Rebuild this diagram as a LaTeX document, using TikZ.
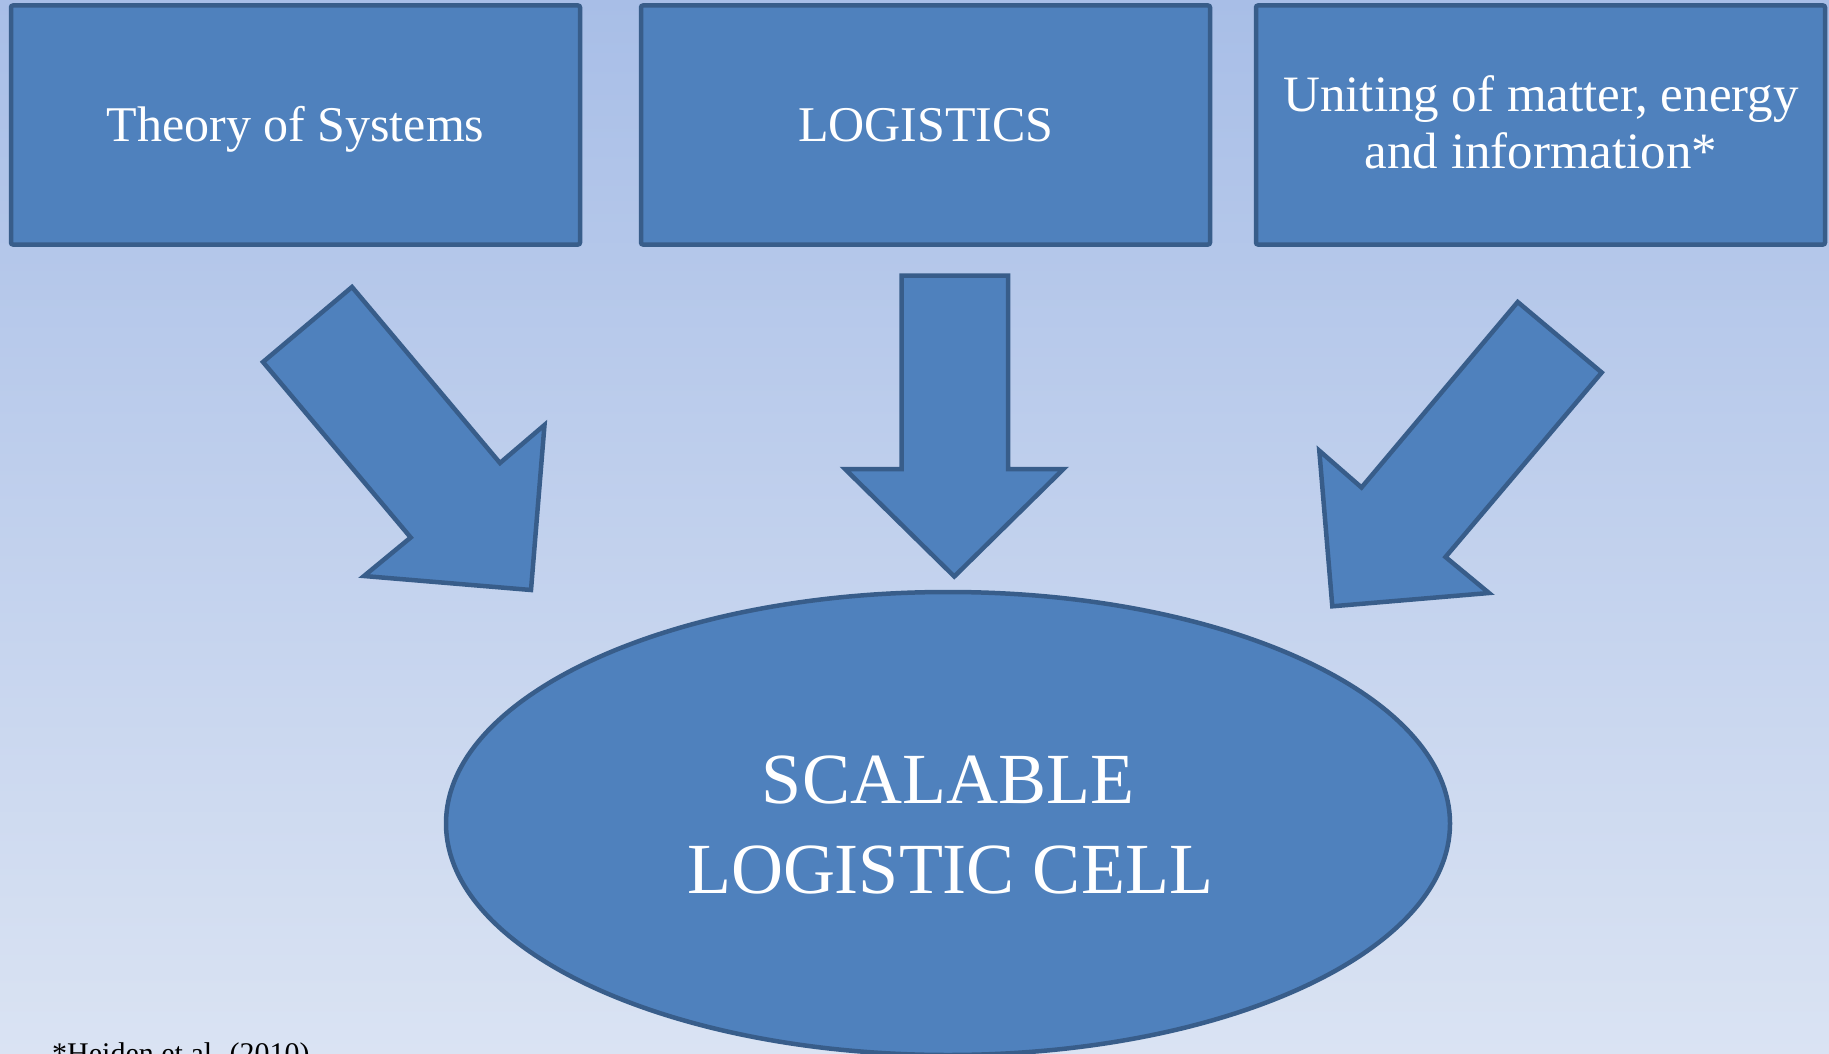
\documentclass[tikz,border=0pt]{standalone}
\usepackage{fontspec}
\setmainfont{Liberation Serif}
\usetikzlibrary{shapes.geometric}
\definecolor{bgtop}{RGB}{168,190,231}
\definecolor{bgbot}{RGB}{218,227,243}
\definecolor{fillblue}{RGB}{79,129,189}
\definecolor{edgeblue}{RGB}{56,93,138}
\begin{document}
\begin{tikzpicture}[x=1pt,y=-1pt,
  shp/.style={fill=fillblue,draw=edgeblue,line width=4.5pt,line join=miter},
  boxst/.style={shp,rounded corners=2pt,outer sep=0pt,inner sep=0pt,minimum width=569pt,minimum height=239pt},
  lbl/.style={text=white,anchor=base,inner sep=0pt,font=\fontsize{50}{56}\selectfont},
  biglbl/.style={text=white,anchor=base,inner sep=0pt,font=\fontsize{72}{80}\selectfont}]
\useasboundingbox (0,0) rectangle (1829,1054);
\clip (0,0) rectangle (1829,1054);
\shade[top color=bgtop,bottom color=bgbot] (0,0) rectangle (1829,1054);

% top boxes
\node[boxst] (b1) at (295.5,125) {};
\node[boxst] (b2) at (925.5,125) {};
\node[boxst] (b3) at (1540.5,125) {};
\node[lbl] (t1) at (295.5,142) {Theory of Systems};
\node[lbl] (t2) at (926,142) {LOGISTICS};
\node[lbl,font=\fontsize{51}{56}\selectfont] (t3a) at (1541,112) {Uniting of matter, energy};
\node[lbl,font=\fontsize{51}{56}\selectfont] (t3b) at (1541,168) {and information*};

% block arrows
\draw[shp] (263,362) -- (352,287) -- (500,463) -- (544.5,425) -- (531,590) -- (364,576) -- (410.7,537.5) -- cycle;
\draw[shp] (901.5,275.5) -- (1008,275.5) -- (1008,469) -- (1063.5,469) -- (954.3,576.5) -- (845,469) -- (901.5,469) -- cycle;
\draw[shp] (1517.7,302) -- (1601.7,372.5) -- (1445.5,557) -- (1489,593) -- (1332.3,606.3) -- (1319.3,450.7) -- (1361.5,487.5) -- cycle;

% ellipse
\node[shp,ellipse,minimum width=1004pt,minimum height=463pt,inner sep=0pt,outer sep=0pt] (cell) at (948,823.5) {};
\node[biglbl] (c1) at (948,803) {SCALABLE};
\node[biglbl] (c2) at (950,893) {LOGISTIC CELL};

% footnote
\node[anchor=base west,inner sep=0pt,text=black,font=\fontsize{30}{34}\selectfont] (fn) at (52,1063) {*Heiden et al. (2010)};
\end{tikzpicture}
\end{document}
